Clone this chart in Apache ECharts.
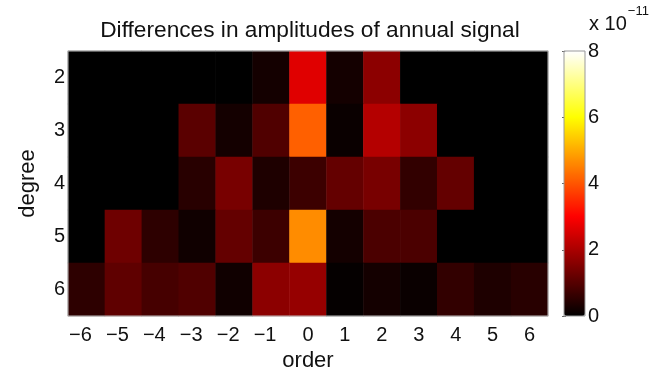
<!DOCTYPE html>
<html>
<head>
<meta charset="utf-8">
<script src="https://cdn.jsdelivr.net/npm/echarts@6/dist/echarts.min.js"></script>
<style>
  html, body { margin: 0; padding: 0; background: #fff; }
  #chart { width: 664px; height: 370px; }
</style>
</head>
<body>
<div id="chart"></div>
<script>
// Orders along x, degrees along y (degree 2 at the top)
var orders = ['−6', '−5', '−4', '−3', '−2', '−1', '0', '1', '2', '3', '4', '5', '6'];
var degrees = ['2', '3', '4', '5', '6'];

// Amplitude differences per degree, in units of 1e-11, listed by order -6..6
var deg2 = [0, 0, 0, 0, 0, 0.24, 2.64, 0.24, 1.65, 0, 0, 0, 0];
var deg3 = [0, 0, 0, 1.06, 0.24, 0.94, 4.13, 0.12, 2.12, 1.65, 0, 0, 0];
var deg4 = [0, 0, 0, 0.47, 1.41, 0.35, 0.71, 1.18, 1.41, 0.59, 1.18, 0, 0];
var deg5 = [0, 1.29, 0.53, 0.19, 1.18, 0.71, 4.65, 0.24, 0.88, 0.88, 0, 0, 0];
var deg6 = [0.53, 1.12, 0.82, 0.94, 0.19, 1.65, 1.76, 0.06, 0.24, 0.12, 0.59, 0.35, 0.47];

// Colour bar range and ticks (x 10^-11)
var cbarMin = 0, cbarMax = 8, cbarStep = 2;

// "hot" colour map: black -> red -> yellow -> white, as evenly spaced stops
var hotStops = ['#000000', '#550000', '#aa0000', '#ff0000', '#ff5500',
                '#ffaa00', '#ffff00', '#ffff80', '#ffffff'];

var rows = [deg2, deg3, deg4, deg5, deg6];
var cells = [];
rows.forEach(function (row, yi) {
  row.forEach(function (v, xi) { cells.push([xi, yi, v]); });
});

var font = '"Liberation Sans", Arial, Helvetica, sans-serif';
var tickSize = 20;
var chart = echarts.init(document.getElementById('chart'), null, { renderer: 'canvas' });

chart.setOption({
  animation: false,
  backgroundColor: '#ffffff',
  textStyle: { fontFamily: font, color: '#000' },
  title: {
    text: 'Differences in amplitudes of annual signal',
    left: 305, top: 14, textAlign: 'center',
    textStyle: { fontFamily: font, fontSize: 22.7, fontWeight: 'normal', color: '#111' }
  },
  grid: [
    { left: 68, top: 51, width: 480, height: 265, outerBoundsMode: 'none', containLabel: false,
      show: true, borderColor: '#bbb', borderWidth: 1, z: 10, backgroundColor: 'transparent' },
    { left: 564, top: 51, width: 21, height: 265, outerBoundsMode: 'none', containLabel: false,
      show: true, borderColor: '#999', borderWidth: 1, backgroundColor: 'transparent', z: 10 }
  ],
  xAxis: [
    {
      type: 'category', data: orders, gridIndex: 0,
      name: 'order', nameLocation: 'middle', nameGap: 25,
      nameTextStyle: { fontFamily: font, fontSize: 22, color: '#111' },
      axisLine: { show: false }, axisTick: { show: false }, splitLine: { show: false },
      axisLabel: {
        margin: 9, interval: 0, hideOverlap: false,
        // negative labels: keep the digit on the column centre, minus hangs left
        formatter: function (v) {
          return v.charAt(0) === '−' ? '{neg|' + v + '}' : '{pos|' + v + '}';
        },
        rich: {
          neg: { fontFamily: font, fontSize: tickSize, color: '#111', padding: [0, 12, 0, 0] },
          pos: { fontFamily: font, fontSize: tickSize, color: '#111' }
        }
      }
    },
    { type: 'value', gridIndex: 1, show: false, min: 0, max: 1 }
  ],
  yAxis: [
    {
      type: 'category', data: degrees, gridIndex: 0, inverse: true,
      name: 'degree', nameLocation: 'middle', nameGap: 29,
      nameTextStyle: { fontFamily: font, fontSize: 22, color: '#111' },
      axisLine: { show: false }, axisTick: { show: false }, splitLine: { show: false },
      axisLabel: { fontFamily: font, fontSize: tickSize, color: '#111', margin: 3, padding: [6, 0, 0, 0],
                   interval: 0, hideOverlap: false }
    },
    {
      type: 'value', gridIndex: 1, position: 'right',
      min: cbarMin, max: cbarMax, interval: cbarStep,
      axisLine: { show: false }, splitLine: { show: false },
      axisTick: { show: true, inside: true, length: 2, lineStyle: { color: '#666' } },
      axisLabel: { fontFamily: font, fontSize: tickSize, color: '#111', margin: 3 }
    },
    {
      type: 'value', gridIndex: 1, position: 'left',
      min: cbarMin, max: cbarMax, interval: cbarStep,
      axisLine: { show: false }, splitLine: { show: false }, axisLabel: { show: false },
      axisTick: { show: true, inside: true, length: 2, lineStyle: { color: '#666' } }
    }
  ],
  visualMap: {
    type: 'continuous', seriesIndex: 0,
    min: cbarMin, max: cbarMax, calculable: false,
    orient: 'vertical', left: 564, top: 51, padding: 0,
    itemWidth: 21, itemHeight: 265, text: ['', ''], showLabel: false,
    inRange: { color: hotStops }
  },
  graphic: [{
    type: 'text', left: 589, top: 5,
    style: {
      text: '{a|x 10}{s|−11}',
      rich: {
        a: { fontFamily: font, fontSize: 20, fill: '#111', padding: [9, 1, 0, 0] },
        s: { fontFamily: font, fontSize: 13, fill: '#111', verticalAlign: 'top' }
      }
    }
  }],
  series: [{
    type: 'heatmap', xAxisIndex: 0, yAxisIndex: 0, data: cells,
    itemStyle: { borderWidth: 0 },
    emphasis: { disabled: true }
  }]
});
</script>
</body>
</html>
